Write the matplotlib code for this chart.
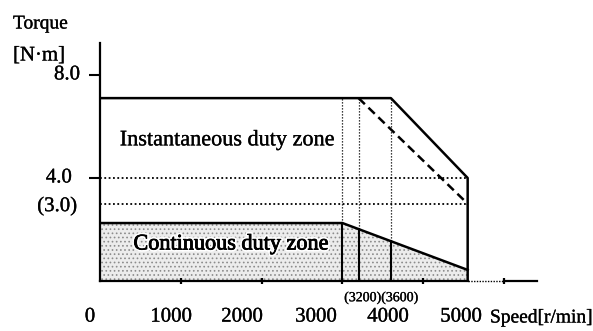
import numpy as np
import matplotlib
matplotlib.use("Agg")
import matplotlib.pyplot as plt
import matplotlib.patheffects as pe

plt.rcParams["font.family"] = ["Liberation Serif", "DejaVu Serif"]
plt.rcParams["hatch.linewidth"] = 0.7

# Torque-speed characteristic
cont_speed = [0, 3000, 4550]          # continuous duty limit
cont_torque = [2.25, 2.25, 0.43]
peak_speed = [0, 3600, 4550, 4550]    # instantaneous limit
peak_torque = [7.1, 7.1, 4.0, 0.0]
low_speed = [3200, 4550]              # instantaneous limit, low supply voltage
low_torque = [7.1, 3.0]
guide_speeds = [3000, 3200, 3600]
guide_torques = [4.0, 3.0]

torque_ticks = [8.0, 4.0]
torque_labels = ["8.0", "4.0"]
speed_ticks = [1000, 2000, 3000, 4000, 5000]
speed_labels = ["0", "1000", "2000", "3000", "4000", "5000"]
speed_label_x = [-124, 879, 1757, 2673, 3564, 4468]
max_speed = 4550
peak_max = 7.1

ink = "black"
heavy = [pe.withStroke(linewidth=0.2, foreground=ink)]

fig = plt.figure(figsize=(5.93, 3.31), dpi=100)
ax = fig.add_axes([100 / 593, 50 / 331, 437 / 593, 238 / 331])
ax.set_xlim(0, 5408)
ax.set_ylim(0, 9.24)

# Stippled continuous zone
zone_x = cont_speed + [max_speed, 0]
zone_y = cont_torque + [0, 0]
ax.fill(zone_x, zone_y, facecolor="#ececec", edgecolor="none", zorder=1)
ax.fill(zone_x, zone_y, facecolor="none", edgecolor="#8c8c8c", hatch="....",
        linewidth=0, zorder=1)

# Dotted guides
dot = (0, (1, 1.4))
for t in guide_torques:
    ax.plot([0, max_speed], [t, t], color=ink, lw=1.3, linestyle=dot, zorder=2)
for s in guide_speeds:
    base = np.interp(s, cont_speed, cont_torque)
    ax.plot([s, s], [base, peak_max], color=ink, lw=0.9, linestyle=dot, zorder=2)
    ax.plot([s, s], [0, base], color=ink, lw=1.5, zorder=3)

# Limit curves
ax.plot(cont_speed, cont_torque, color=ink, lw=1.8, zorder=4)
ax.plot(peak_speed, peak_torque, color=ink, lw=1.8, zorder=4)
ax.plot(low_speed, low_torque, color=ink, lw=1.8, linestyle=(0, (3.5, 2)), zorder=4)

# Axes lines
for side in ["top", "right", "bottom"]:
    ax.spines[side].set_visible(False)
ax.spines["left"].set_linewidth(1.6)
xmax = ax.get_xlim()[1]
ax.plot([0, max_speed], [0, 0], color=ink, lw=1.6, clip_on=False, zorder=5)
ax.plot([max_speed, 5000], [0, 0], color=ink, lw=1.0, linestyle=(0, (1, 1)),
        clip_on=False, zorder=5)
ax.plot([5000, xmax], [0, 0], color=ink, lw=1.6, clip_on=False, zorder=5)

# Speed axis: tick marks at the thousands, labels set below them
ax.set_xticks(speed_ticks, [])
ax.tick_params(axis="x", direction="inout", length=4, width=1.6)
for x, lab in zip(speed_label_x, speed_labels):
    ax.annotate(lab, xy=(x, 0), xytext=(0, -26), textcoords="offset points",
                ha="center", va="center", fontsize=15, annotation_clip=False,
                path_effects=heavy)
ax.annotate("(3200)(3600)", xy=(np.mean(guide_speeds[1:]), 0), xytext=(4.5, -12),
            textcoords="offset points", ha="center", va="center", fontsize=10,
            path_effects=heavy)

# Torque axis
ax.set_yticks(torque_ticks, [])
ax.tick_params(axis="y", direction="out", length=8, width=1.5)
for t, lab, off in zip(torque_ticks, torque_labels, [-14.4, -20.2]):
    ax.annotate(lab, xy=(0, t), xytext=(off, 0), textcoords="offset points",
                ha="right", va="center", fontsize=15, path_effects=heavy)
ax.annotate("(3.0)", xy=(0, guide_torques[1]), xytext=(-16.5, -2),
            textcoords="offset points", ha="right", va="center", fontsize=15,
            path_effects=heavy)

# Zone names
ax.text(1572, 5.44, "Instantaneous duty zone", ha="center", va="center",
        fontsize=16, path_effects=heavy)
ax.text(1621, 1.40, "Continuous duty zone", ha="center", va="center",
        fontsize=16,
        path_effects=[pe.withStroke(linewidth=3, foreground="white"),
                      pe.withStroke(linewidth=0.6, foreground=ink)])

fig.text(13 / 593, 1 - 24 / 331, "Torque", ha="left", va="center", fontsize=14,
         path_effects=heavy)
fig.text(13 / 593, 1 - 56 / 331, "[N\u00b7m]", ha="left", va="center", fontsize=15,
         path_effects=heavy)
fig.text(490 / 593, 1 - 318 / 331, "Speed[r/min]", ha="left", va="center",
         fontsize=14, path_effects=heavy)

fig.savefig("out.png", dpi=100)
